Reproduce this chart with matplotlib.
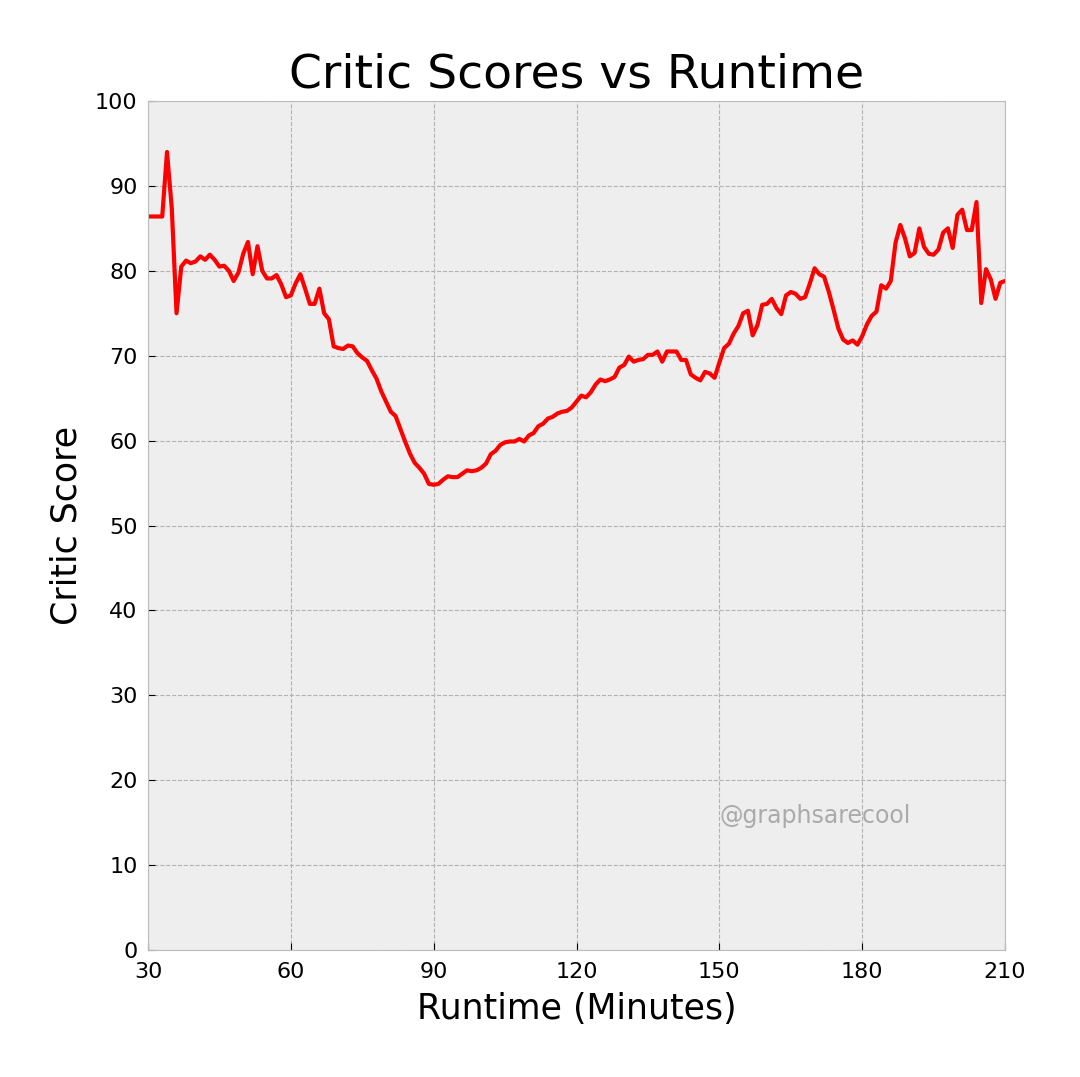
import numpy as np
import matplotlib
matplotlib.use("Agg")
import matplotlib.pyplot as plt

# runtime in minutes (one point per minute) and smoothed critic score
runtime = np.arange(30, 211)
score = [
    86.4, 86.4, 86.4, 86.4, 94.0, 87.4, 75.0, 80.5, 81.2, 80.9,   # 30-39
    81.1, 81.7, 81.3, 81.9, 81.3, 80.5, 80.6, 80.0, 78.8, 79.8,   # 40-49
    82.0, 83.4, 79.6, 82.9, 80.0, 79.1, 79.1, 79.5, 78.4, 76.9,   # 50-59
    77.1, 78.5, 79.6, 77.9, 76.1, 76.1, 77.9, 75.0, 74.3, 71.1,   # 60-69
    70.9, 70.8, 71.2, 71.1, 70.3, 69.8, 69.4, 68.3, 67.3, 65.8,   # 70-79
    64.6, 63.4, 62.9, 61.4, 59.9, 58.5, 57.4, 56.8, 56.1, 54.9,   # 80-89
    54.8, 54.9, 55.4, 55.8, 55.7, 55.7, 56.1, 56.5, 56.4, 56.5,   # 90-99
    56.8, 57.3, 58.4, 58.8, 59.5, 59.8, 59.9, 59.9, 60.2, 59.9,   # 100-109
    60.6, 60.9, 61.7, 62.0, 62.6, 62.8, 63.2, 63.4, 63.5, 63.9,   # 110-119
    64.6, 65.3, 65.1, 65.7, 66.6, 67.2, 67.0, 67.2, 67.5, 68.6,   # 120-129
    68.9, 69.9, 69.3, 69.5, 69.6, 70.1, 70.1, 70.5, 69.3, 70.5,   # 130-139
    70.5, 70.5, 69.5, 69.5, 67.8, 67.4, 67.1, 68.1, 67.9, 67.4,   # 140-149
    69.2, 70.9, 71.4, 72.6, 73.5, 75.0, 75.3, 72.4, 73.6, 76.0,   # 150-159
    76.1, 76.7, 75.6, 74.9, 77.1, 77.5, 77.3, 76.7, 76.9, 78.5,   # 160-169
    80.3, 79.6, 79.3, 77.5, 75.4, 73.2, 71.9, 71.5, 71.8, 71.3,   # 170-179
    72.3, 73.7, 74.7, 75.2, 78.3, 77.9, 78.8, 83.3, 85.4, 83.8,   # 180-189
    81.7, 82.1, 85.0, 82.8, 82.0, 81.9, 82.5, 84.5, 85.0, 82.7,   # 190-199
    86.6, 87.2, 84.8, 84.8, 88.1, 76.2, 80.2, 79.0, 76.7, 78.6,   # 200-209
    78.8,                                                         # 210
]

xticks = [30, 60, 90, 120, 150, 180, 210]
yticks = list(range(0, 101, 10))

plt.style.use("bmh")

fig = plt.figure(figsize=(10.8, 10.77), dpi=100)
ax = fig.add_axes([0.137, 0.1179, 0.7936, 0.7883])

ax.plot(runtime, score, color="red", linewidth=3)

ax.set_xlim(30, 210)
ax.set_ylim(0, 100)
ax.set_xticks(xticks)
ax.set_yticks(yticks)
ax.tick_params(labelsize=16, length=5)
ax.tick_params(axis="x", pad=8.5)
ax.tick_params(axis="y", pad=7.5)
ax.grid(True, linestyle="--", color="#b2b2b2", linewidth=0.8)

ax.set_title("Critic Scores vs Runtime", fontsize=34, pad=10)
ax.set_xlabel("Runtime (Minutes)", fontsize=25, labelpad=7)
ax.set_ylabel("Critic Score", fontsize=25, labelpad=8.5)

ax.text(150, 15.8, "@graphsarecool", fontsize=17, color="#aaaaaa",
        ha="left", va="center")

fig.savefig("out.png", dpi=100)
